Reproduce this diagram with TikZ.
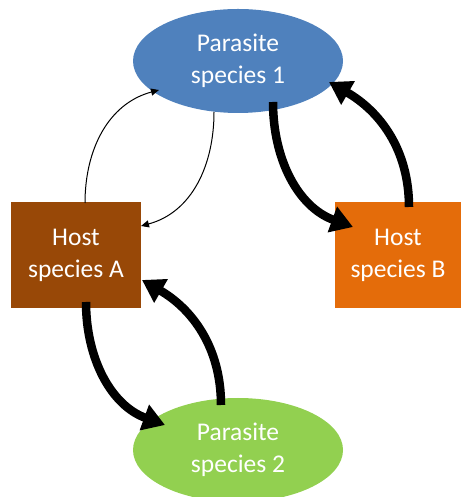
\documentclass[tikz,border=0pt]{standalone}
\usepackage{fontspec}
\setmainfont{Carlito}
\usetikzlibrary{shapes.geometric,arrows.meta,calc}
\definecolor{pblue}{HTML}{4F81BD}
\definecolor{pgreen}{HTML}{92D050}
\definecolor{hbrown}{HTML}{984807}
\definecolor{horange}{HTML}{E46C0A}
\tikzset{
  lbl/.style={text=white,font=\fontsize{25.5}{32}\selectfont,align=center,inner sep=0pt},
  para/.style={ellipse,lbl,minimum width=210pt,minimum height=104pt},
  host/.style={rectangle,lbl,minimum height=106pt},
  thin/.style={line width=1pt,-{Triangle[length=8pt,width=7pt]}},
  thick/.style={line width=8.5pt,-{Triangle[length=22pt,width=26pt]}},
}
\begin{document}
\begin{tikzpicture}[x=1pt,y=1pt]
\useasboundingbox (0,0) rectangle (461,497);
\node[para,fill=pblue] (p1) at (238,436) {Parasite\\species 1};
\node[para,fill=pgreen] (p2) at (238,47) {Parasite\\species 2};
\node[host,fill=hbrown,minimum width=130pt] (hA) at (76,242) {Host\\species A};
\node[host,fill=horange,minimum width=126pt] (hB) at (398,242) {Host\\species B};
% thin arrows
\draw[thin] ($(hA.center)+(9,52)$) to[out=90,in=195] ($(p1.center)+(-79,-29)$);
\draw[thin] ($(p1.center)+(-24,-51)$) to[out=-90,in=15] ($(hA.center)+(65,29)$);
% thick arrows
\draw[thick] ($(p1.center)+(35,-41)$) to[out=-90,in=160] ($(hB.center)+(-45,28)$);
\draw[thick] ($(hB.center)+(11,48)$) to[out=90,in=-30] ($(p1.center)+(91,-21)$);
\draw[thick] ($(hA.center)+(10,-47)$) to[out=-90,in=160] ($(p2.center)+(-73,25)$);
\draw[thick] ($(p2.center)+(-17,45)$) to[out=90,in=-30] ($(hA.center)+(66,-25)$);
\end{tikzpicture}
\end{document}
